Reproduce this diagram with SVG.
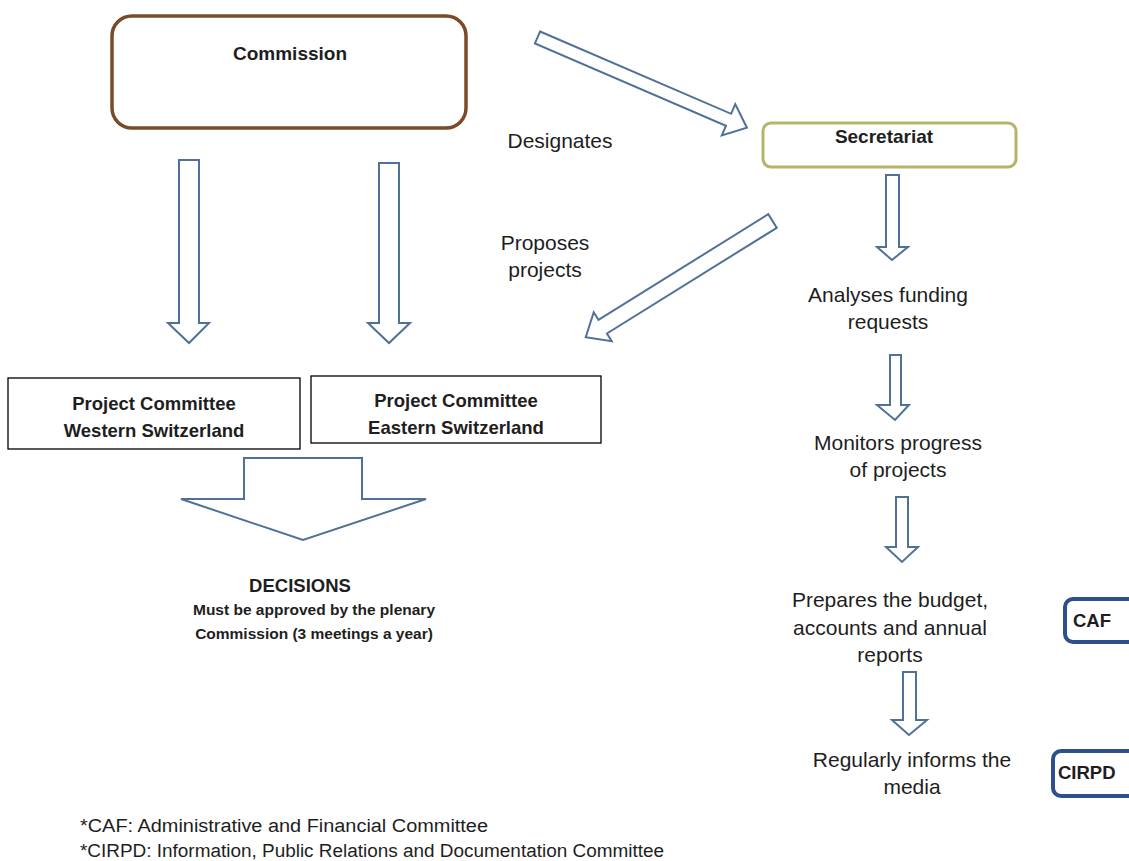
<svg xmlns="http://www.w3.org/2000/svg" width="1129" height="861" viewBox="0 0 1129 861">
<style>
  .t { font-family: "Liberation Sans", Arial, sans-serif; fill: #1e1e1e; }
  .r { font-size: 21px; text-anchor: middle; }
  .b { font-weight: bold; }
  .arrow { fill: #ffffff; stroke: #4f7198; stroke-width: 2; stroke-linejoin: miter; }
  .pc { fill: #ffffff; stroke: #000000; stroke-width: 1.3; }
  .sub { fill: #ffffff; stroke: #2d4f8e; stroke-width: 4; }
</style>
<rect width="1129" height="861" fill="#ffffff"/>

<g id="connectors">
  <!-- Commission -> Secretariat (Designates) -->
  <polygon class="arrow" transform="translate(537.5,37.5) rotate(23.3)" points="0,-6.5 208,-6.5 208,-17 228,0 208,17 208,6.5 0,6.5"/>
  <!-- Secretariat -> Project committees (Proposes projects) -->
  <polygon class="arrow" transform="translate(772.5,221) rotate(148.1)" points="0,-8 200,-8 200,-17 220,0 200,17 200,8 0,8"/>
  <!-- Commission -> Western -->
  <polygon class="arrow" points="179,160 199,160 199,323 209,323 189,343 168,323 179,323"/>
  <!-- Commission -> Eastern -->
  <polygon class="arrow" points="379,163 399,163 399,323 410,323 389,343 368,323 379,323"/>
  <!-- Committees -> Decisions -->
  <polygon class="arrow" points="244,458 362,458 362,499 426,499 303,540 181,499 244,499"/>
  <!-- Secretariat column -->
  <polygon class="arrow" points="886,175 899,175 899,247 908,247 892,260 877,247 886,247"/>
  <polygon class="arrow" points="890,355 901,355 901,405 909,405 895,420 877,405 890,405"/>
  <polygon class="arrow" points="896,497 908,497 908,547 918,547 902,562 886,547 896,547"/>
  <polygon class="arrow" points="903,672 916,672 916,720 927,720 909,735 892,720 903,720"/>
</g>

<g id="commission">
  <rect x="112" y="16" width="354" height="112" rx="20" ry="20" fill="#ffffff" stroke="#7b4a26" stroke-width="3.5"/>
  <text class="t b" x="290" y="60" font-size="19" text-anchor="middle">Commission</text>
</g>

<g id="secretariat">
  <rect x="763" y="123" width="253" height="44" rx="8" ry="8" fill="#ffffff" stroke="#b5b46a" stroke-width="3"/>
  <text class="t b" x="884" y="143" font-size="19" text-anchor="middle">Secretariat</text>
</g>

<g id="label-designates">
  <text class="t r" x="560" y="148">Designates</text>
</g>
<g id="label-proposes">
  <text class="t r" x="545" y="250">Proposes</text>
  <text class="t r" x="545" y="277">projects</text>
</g>

<g id="committee-west">
  <rect class="pc" x="8" y="378" width="292" height="71"/>
  <text class="t b" x="154" y="410" font-size="18.5" text-anchor="middle">Project Committee</text>
  <text class="t b" x="154" y="437" font-size="18.5" text-anchor="middle">Western Switzerland</text>
</g>

<g id="committee-east">
  <rect class="pc" x="311" y="376" width="290" height="67"/>
  <text class="t b" x="456" y="407" font-size="18.5" text-anchor="middle">Project Committee</text>
  <text class="t b" x="456" y="434" font-size="18.5" text-anchor="middle">Eastern Switzerland</text>
</g>

<g id="decisions">
  <text class="t b" x="300" y="592" font-size="18.5" text-anchor="middle">DECISIONS</text>
  <text class="t b" x="314" y="615" font-size="15.5" text-anchor="middle">Must be approved by the plenary</text>
  <text class="t b" x="314" y="639" font-size="15.5" text-anchor="middle">Commission (3 meetings a year)</text>
</g>

<g id="analyses">
  <text class="t r" x="888" y="302">Analyses funding</text>
  <text class="t r" x="888" y="329">requests</text>
</g>
<g id="monitors">
  <text class="t r" x="898" y="450">Monitors progress</text>
  <text class="t r" x="898" y="477">of projects</text>
</g>
<g id="prepares">
  <text class="t r" x="890" y="607">Prepares the budget,</text>
  <text class="t r" x="890" y="635">accounts and annual</text>
  <text class="t r" x="890" y="662">reports</text>
</g>
<g id="informs">
  <text class="t r" x="912" y="767">Regularly informs the</text>
  <text class="t r" x="912" y="794">media</text>
</g>

<g id="caf">
  <rect class="sub" x="1065" y="599" width="90" height="43" rx="8" ry="8"/>
  <text class="t b" x="1073" y="627" font-size="18.5">CAF</text>
</g>
<g id="cirpd">
  <rect class="sub" x="1053" y="751" width="110" height="45" rx="8" ry="8"/>
  <text class="t b" x="1058" y="779" font-size="18.5">CIRPD</text>
</g>

<g id="footnotes">
  <text class="t" x="80" y="832" font-size="18" textLength="408" lengthAdjust="spacingAndGlyphs">*CAF: Administrative and Financial Committee</text>
  <text class="t" x="80" y="857" font-size="18" textLength="584" lengthAdjust="spacingAndGlyphs">*CIRPD: Information, Public Relations and Documentation Committee</text>
</g>
</svg>
